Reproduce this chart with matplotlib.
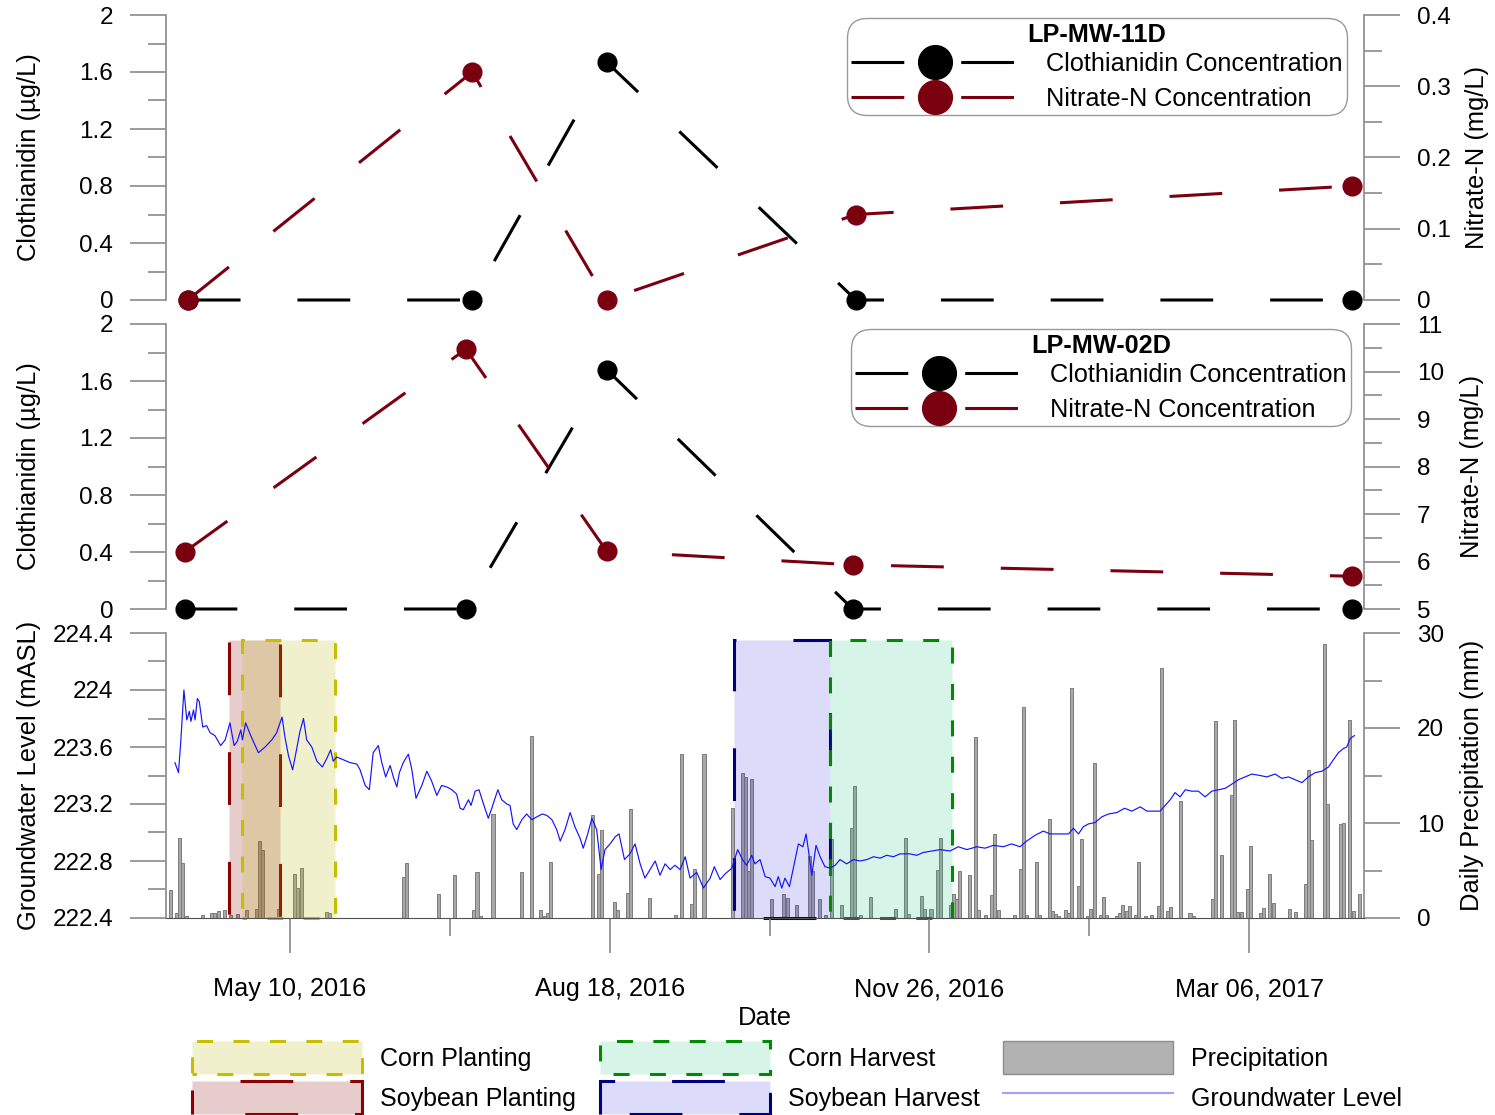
import numpy as np
import matplotlib
matplotlib.use('Agg')
import matplotlib.pyplot as plt
import matplotlib.dates as mdates
from matplotlib.patches import Rectangle, Patch
from matplotlib.lines import Line2D
from matplotlib.ticker import MultipleLocator, FixedLocator, FuncFormatter

plt.rcParams['font.family'] = ['Liberation Sans', 'DejaVu Sans']
plt.rcParams['lines.scale_dashes'] = False

START = np.datetime64('2016-04-01')

# sampling events (LP-MW-11D and LP-MW-02D)
dates_11d = ['2016-04-08', '2016-07-06', '2016-08-17', '2016-11-03', '2017-04-07']
clo_11d = [0, 0, 1.67, 0, 0]
nit_11d = [0, 0.32, 0, 0.12, 0.16]

dates_02d = ['2016-04-07', '2016-07-04', '2016-08-17', '2016-11-02', '2017-04-07']
clo_02d = [0, 0, 1.68, 0, 0]
nit_02d = [6.2, 10.47, 6.22, 5.93, 5.69]

# field activity windows
corn_planting = ('2016-04-25', '2016-05-24')
soy_planting = ('2016-04-21', '2016-05-07')
soy_harvest = ('2016-09-26', '2016-10-26')
corn_harvest = ('2016-10-26', '2016-12-03')

# daily precipitation, days after 2016-04-01 and mm
precip_day = [1, 3, 4, 5, 6, 11, 14, 15, 16, 18, 20, 22, 25, 28, 29, 30, 35, 40, 41, 42,
              50, 51, 74, 75, 85, 90, 96, 97, 98, 102, 111, 114, 117, 118, 119, 120, 133,
              135, 136, 140, 141, 144, 145, 151, 159, 161, 164, 165, 168, 177, 180, 181,
              182, 183, 189, 193, 194, 197, 201, 202, 204, 206, 208, 211, 214, 215, 217,
              220, 228, 231, 232, 236, 237, 239, 241, 242, 245, 246, 247, 248, 251, 253,
              254, 256, 258, 259, 260, 265, 267, 268, 269, 272, 273, 276, 277, 278, 279,
              281, 282, 283, 285, 286, 288, 289, 290, 292, 293, 294, 297, 298, 299, 300,
              301, 303, 304, 306, 308, 310, 311, 313, 314, 317, 320, 321, 327, 328, 330,
              333, 334, 335, 336, 338, 339, 342, 343, 345, 346, 351, 353, 356, 357, 358,
              362, 363, 367, 368, 370, 371, 373]
precip_mm = [3.0, 0.5, 8.4, 5.8, 0.2, 0.3, 0.5, 0.5, 0.7, 0.8, 0.3, 0.4, 0.8, 1.0, 8.1, 7.2,
             1.0, 4.6, 3.2, 5.3, 0.6, 0.5, 4.3, 5.8, 2.5, 4.5, 0.8, 4.8, 0.2, 10.9, 4.8, 19.2,
             0.8, 0.2, 0.5, 5.9, 10.8, 4.6, 9.3, 1.7, 0.8, 2.6, 11.5, 2.1, 0.3, 17.3, 1.5,
             5.2, 17.3, 11.6, 15.3, 14.8, 4.9, 14.6, 2.0, 2.5, 2.1, 1.4, 6.5, 5.0, 2.0, 0.3,
             8.3, 1.4, 9.5, 13.9, 0.3, 2.2, 1.0, 8.4, 0.4, 2.3, 1.0, 1.0, 5.1, 8.4, 1.4, 2.5,
             2.0, 4.9, 4.5, 19.1, 0.8, 0.3, 2.4, 8.8, 0.8, 0.3, 5.2, 22.2, 0.3, 5.9, 0.3,
             10.4, 0.7, 0.4, 0.2, 0.8, 0.5, 24.2, 3.4, 8.3, 0.2, 0.9, 16.3, 0.3, 2.2, 0.3,
             0.2, 0.5, 1.4, 0.7, 1.3, 0.3, 5.9, 0.2, 0.3, 1.3, 26.3, 0.7, 1.2, 12.3, 0.5,
             0.2, 2.0, 20.7, 6.6, 12.9, 20.8, 0.6, 0.6, 3.1, 7.6, 0.5, 1.1, 4.6, 1.6, 0.9,
             0.6, 3.6, 15.6, 8.2, 28.8, 12.0, 9.9, 10.0, 20.8, 0.7, 2.5]

# groundwater level, days after 2016-04-01 and m above sea level
gw_day = [3.0, 4.1, 4.8, 5.8, 6.7, 7.5, 8.0, 8.8, 9.3, 10.0, 10.6, 11.7, 12.9, 14.0, 15.5,
          17.3, 18.7, 20.2, 21.5, 22.5, 23.6, 24.1, 25.1, 26.7, 29.1, 31.2, 33.3, 34.8,
          36.5, 37.4, 38.5, 39.8, 41.1, 42.1, 43.2, 44.2, 45.8, 47.4, 49.1, 50.5, 51.7,
          52.5, 53.6, 55.7, 57.8, 59.9, 60.9, 62.5, 63.8, 65.0, 66.6, 67.7, 68.9, 70.3,
          71.3, 72.4, 73.2, 74.4, 76.0, 77.1, 78.4, 80.2, 81.8, 83.3, 84.9, 86.4, 88.0,
          89.6, 91.1, 92.2, 93.2, 94.8, 95.6, 96.9, 98.1, 99.5, 101.0, 102.1, 103.1, 104.0,
          105.2, 106.8, 107.8, 108.8, 109.9, 111.5, 113.0, 114.6, 116.2, 117.9, 119.3,
          120.9, 122.4, 123.5, 125.0, 126.6, 128.1, 129.7, 130.7, 132.1, 133.4, 134.9,
          136.3, 137.5, 139.1, 140.7, 141.9, 143.6, 145.3, 146.9, 148.5, 150.0, 151.6,
          153.2, 154.7, 156.3, 157.9, 159.4, 161.0, 162.6, 164.1, 166.2, 168.3, 170.4,
          171.7, 173.5, 175.1, 177.2, 179.0, 180.5, 181.8, 183.4, 184.4, 186.0, 187.6,
          189.1, 190.7, 191.7, 192.8, 193.8, 195.2, 196.4, 198.0, 199.4, 200.4, 201.1,
          202.2, 203.5, 204.8, 206.3, 207.9, 209.5, 211.0, 213.1, 215.2, 217.3, 219.4,
          221.5, 223.6, 225.6, 227.7, 229.8, 232.9, 235.0, 237.1, 239.7, 242.3, 245.4,
          248.0, 250.7, 253.8, 256.4, 259.0, 262.1, 264.7, 267.3, 269.4, 272.0, 274.6,
          276.7, 279.3, 282.5, 284.0, 285.6, 287.1, 288.7, 290.8, 292.9, 295.0, 297.6,
          300.0, 302.3, 304.9, 307.0, 309.6, 311.1, 312.7, 314.3, 315.8, 317.4, 319.0,
          321.0, 323.1, 325.2, 327.3, 329.4, 331.5, 333.6, 335.6, 337.7, 339.8, 342.4,
          344.5, 347.1, 349.2, 351.3, 353.4, 355.5, 357.5, 359.6, 361.7, 363.8, 365.3,
          366.9, 368.5, 369.5, 370.6, 371.9]
gw_level = [223.49, 223.42, 223.63, 224.00, 223.79, 223.85, 223.78, 223.86, 223.79, 223.94,
            223.92, 223.74, 223.75, 223.70, 223.68, 223.61, 223.65, 223.77, 223.61, 223.64,
            223.72, 223.65, 223.77, 223.68, 223.56, 223.60, 223.65, 223.70, 223.81, 223.67,
            223.54, 223.44, 223.59, 223.71, 223.80, 223.65, 223.60, 223.50, 223.46, 223.52,
            223.58, 223.50, 223.53, 223.51, 223.49, 223.48, 223.44, 223.33, 223.30, 223.56,
            223.61, 223.49, 223.39, 223.47, 223.39, 223.32, 223.42, 223.49, 223.55, 223.44,
            223.24, 223.33, 223.43, 223.36, 223.26, 223.33, 223.32, 223.30, 223.27, 223.17,
            223.16, 223.23, 223.19, 223.29, 223.30, 223.20, 223.10, 223.17, 223.24, 223.30,
            223.23, 223.20, 223.19, 223.06, 223.02, 223.09, 223.13, 223.09, 223.11, 223.13,
            223.12, 223.09, 223.02, 222.94, 223.02, 223.14, 223.04, 222.96, 222.89, 222.99,
            223.10, 223.02, 222.74, 222.88, 222.92, 222.97, 222.99, 222.81, 222.85, 222.92,
            222.78, 222.68, 222.74, 222.80, 222.70, 222.78, 222.74, 222.77, 222.74, 222.83,
            222.68, 222.72, 222.61, 222.68, 222.76, 222.67, 222.71, 222.75, 222.88, 222.81,
            222.77, 222.84, 222.78, 222.81, 222.69, 222.68, 222.62, 222.69, 222.61, 222.68,
            222.62, 222.75, 222.92, 222.90, 222.99, 222.88, 222.70, 222.91, 222.83, 222.76,
            222.75, 222.77, 222.81, 222.78, 222.81, 222.80, 222.81, 222.83, 222.82, 222.84,
            222.83, 222.85, 222.85, 222.84, 222.86, 222.87, 222.88, 222.87, 222.90, 222.88,
            222.90, 222.89, 222.91, 222.90, 222.92, 222.90, 222.94, 222.98, 223.01, 222.99,
            222.99, 222.99, 223.03, 222.99, 223.04, 223.06, 223.07, 223.11, 223.13, 223.14,
            223.17, 223.15, 223.18, 223.15, 223.15, 223.15, 223.19, 223.23, 223.28, 223.25,
            223.30, 223.29, 223.29, 223.25, 223.29, 223.30, 223.31, 223.34, 223.37, 223.39,
            223.41, 223.40, 223.39, 223.41, 223.38, 223.39, 223.37, 223.35, 223.39, 223.42,
            223.43, 223.46, 223.51, 223.56, 223.59, 223.60, 223.66, 223.68]

major_dates = ['2016-05-10', '2016-08-18', '2016-11-26', '2017-03-06']
minor_dates = ['2016-06-29', '2016-10-07', '2017-01-15']

TICK = '#8a8a8a'
RED = '#7a0010'
FS = 17.5     # tick labels
FL = 18.4     # axis labels
FG = 18.2     # legend text

base = mdates.date2num(START)


def dnum(s):
    return mdates.date2num(np.array(s, dtype='datetime64[D]'))


fig = plt.figure(figsize=(14.95, 11.15), dpi=100)
L, W = 166 / 1495, 1198 / 1495


def panel(top_px):
    return [L, 1 - (top_px + 285) / 1115, W, 285 / 1115]


ax1 = fig.add_axes(panel(15))
ax2 = fig.add_axes(panel(324), sharex=ax1)
ax3 = fig.add_axes(panel(633), sharex=ax1)
ax1r = ax1.twinx()
ax2r = ax2.twinx()
ax3r = ax3.twinx()
ax3.set_zorder(ax3r.get_zorder() + 1)
ax3.patch.set_visible(False)


def style_y(ax, side, lo, hi, major, minor):
    ax.set_ylim(lo, hi)
    ax.yaxis.set_major_locator(MultipleLocator(major))
    ax.yaxis.set_minor_locator(MultipleLocator(minor))
    ax.yaxis.set_major_formatter(FuncFormatter(lambda v, p: f'{v:g}'))
    ax.tick_params(axis='y', which='major', direction='out', length=26, width=1.2,
                   color=TICK, labelsize=FS, pad=12)
    ax.tick_params(axis='y', which='minor', direction='out', length=13, width=1.2, color=TICK)
    for s in ['top', 'bottom', 'left', 'right']:
        ax.spines[s].set_visible(s == side)
    ax.spines[side].set_color(TICK)
    ax.spines[side].set_linewidth(1.2)


style_y(ax1, 'left', 0, 2, 0.4, 0.2)
style_y(ax1r, 'right', 0, 0.4, 0.1, 0.05)
style_y(ax2, 'left', 0, 2, 0.4, 0.2)
style_y(ax2r, 'right', 5, 11, 1, 0.5)
style_y(ax3, 'left', 222.4, 224.4, 0.4, 0.2)
style_y(ax3r, 'right', 0, 30, 10, 5)
ax3.spines['bottom'].set_visible(True)
ax3.spines['bottom'].set_color('#505050')

# concentration panels
line_kw = dict(lw=2.2, markersize=13.5, clip_on=False, linestyle=(0, (38, 41)))
for axl, axr, d, clo, nit, name, anchor in [
        (ax1, ax1r, dates_11d, clo_11d, nit_11d, 'LP-MW-11D', (0.9858, 0.9895)),
        (ax2, ax2r, dates_02d, clo_02d, nit_02d, 'LP-MW-02D', (0.9891, 0.9825))]:
    h1, = axl.plot(dnum(d), clo, color='black', marker='o', **line_kw)
    h2, = axr.plot(dnum(d), nit, color=RED, marker='o', **line_kw)
    leg = axr.legend([h1, h2], ['Clothianidin Concentration', 'Nitrate-N Concentration'],
                     title=name, title_fontproperties={'weight': 'bold', 'size': FG},
                     loc='upper right', bbox_to_anchor=anchor, borderaxespad=0,
                     fontsize=FG, handlelength=6.6, numpoints=1, markerscale=1.8,
                     borderpad=0.18, labelspacing=0.42, handletextpad=1.1, fancybox=True,
                     framealpha=1, edgecolor='#999999')
    leg._legend_box.sep = 0.22 * FG
    leg.get_frame().set_boxstyle('round', pad=0, rounding_size=0.8)
    leg.get_frame().set_linewidth(1.0)
    axl.tick_params(axis='x', which='both', bottom=False, labelbottom=False)

# precipitation bars
ax3r.bar(base + np.array(precip_day), precip_mm, width=0.95, align='edge',
         color='#a8a8a8', edgecolor='#7c7c7c', linewidth=0.7)

# field activity boxes: dash (offset, (on, off)) in points
boxes = [
    ('Soybean Planting', soy_planting, (0.545, 0.0, 0.0, 0.2), '#8b0000', (41, (38, 41))),
    ('Corn Planting', corn_planting, (0.73, 0.71, 0.02, 0.2), '#c8be00', (8.3, (11.5, 14.7))),
    ('Soybean Harvest', soy_harvest, (0.09, 0.09, 0.87, 0.15), '#000080', (58, (38, 41))),
    ('Corn Harvest', corn_harvest, (0.05, 0.77, 0.47, 0.17), '#008a00', (16.8, (11.5, 14.7))),
]
patches = {}
for name, (s, e), face, edge, dash in boxes:
    x0, x1 = dnum(s), dnum(e)
    r = Rectangle((x0, 222.4), x1 - x0, 224.35 - 222.4, facecolor=face, edgecolor=edge,
                  linewidth=2.2, linestyle=dash, clip_on=False)
    ax3.add_patch(r)
    patches[name] = r

ax3.plot(base + np.array(gw_day), gw_level, color='#1414ff', lw=0.85)

# date axis
ax3.set_xlim(base + 0.2, base + 374.9)
ax3.xaxis.set_major_locator(FixedLocator(dnum(major_dates)))
ax3.xaxis.set_minor_locator(FixedLocator(dnum(minor_dates)))
ax3.xaxis.set_major_formatter(mdates.DateFormatter('%b %d, %Y'))
ax3.tick_params(axis='x', which='major', direction='out', length=25, width=1.2,
                color=TICK, labelsize=18.2, pad=17.5)
ax3.tick_params(axis='x', which='minor', direction='out', length=13, width=1.2, color=TICK)
ax3.set_xlabel('Date', fontsize=FL, labelpad=3.5)

# axis labels
for ax, txt in [(ax1, 'Clothianidin (µg/L)'), (ax2, 'Clothianidin (µg/L)'),
                (ax3, 'Groundwater Level (mASL)')]:
    ax.set_ylabel(txt, fontsize=FL)
    ax.yaxis.set_label_coords(-0.104, 0.5)
for ax, txt, xc in [(ax1r, 'Nitrate-N (mg/L)', 1.084), (ax2r, 'Nitrate-N (mg/L)', 1.08),
                    (ax3r, 'Daily Precipitation (mm)', 1.08)]:
    ax.set_ylabel(txt, fontsize=FL)
    ax.yaxis.set_label_coords(xc, 0.5)

# bottom legend
handles = [patches['Corn Planting'], patches['Soybean Planting'],
           patches['Corn Harvest'], patches['Soybean Harvest'],
           Patch(facecolor='#b2b2b2', edgecolor='#8c8c8c', linewidth=1.0),
           Line2D([], [], color='#a0a0ff', lw=1.5)]
labels = ['Corn Planting', 'Soybean Planting', 'Corn Harvest', 'Soybean Harvest',
          'Precipitation', 'Groundwater Level']
fig.legend(handles, labels, loc='upper left', bbox_to_anchor=(192 / 1495, 1 - 1041 / 1115),
           ncol=3, frameon=False, fontsize=18, handlelength=6.8, handleheight=1.66,
           labelspacing=0.28, handletextpad=0.72, columnspacing=0.95, borderpad=0,
           borderaxespad=0)

fig.savefig('out.png', dpi=100)
